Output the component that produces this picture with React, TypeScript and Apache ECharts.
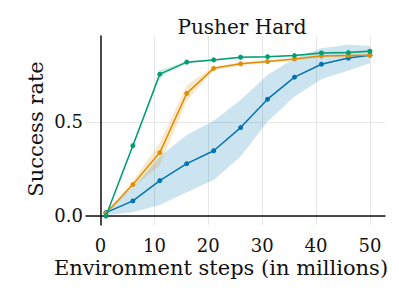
import React, { useEffect, useRef } from "react";
import * as echarts from "echarts";

const steps = [1, 6, 11, 16, 21, 26, 31, 36, 41, 46, 50];
const blueMean = [0.018, 0.08, 0.188, 0.278, 0.347, 0.47, 0.621, 0.738, 0.807, 0.84, 0.855];
const blueLow = [0.005, 0.02, 0.058, 0.126, 0.191, 0.316, 0.502, 0.635, 0.727, 0.773, 0.812];
const blueHigh = [0.03, 0.15, 0.316, 0.431, 0.507, 0.617, 0.75, 0.839, 0.892, 0.91, 0.904];
const orangeMean = [0.014, 0.167, 0.337, 0.652, 0.785, 0.809, 0.821, 0.835, 0.851, 0.853, 0.855];
const orangeLow = [0.008, 0.15, 0.27, 0.61, 0.775, 0.8, 0.813, 0.828, 0.845, 0.847, 0.849];
const orangeHigh = [0.02, 0.185, 0.39, 0.695, 0.795, 0.818, 0.829, 0.842, 0.857, 0.859, 0.861];
const greenMean = [0.0, 0.374, 0.754, 0.818, 0.83, 0.844, 0.847, 0.853, 0.867, 0.869, 0.876];
const greenLow = [-0.005, 0.37, 0.74, 0.812, 0.826, 0.84, 0.843, 0.849, 0.862, 0.864, 0.87];
const greenHigh = [0.005, 0.378, 0.775, 0.824, 0.834, 0.848, 0.851, 0.857, 0.872, 0.874, 0.882];

const xTicks = [0, 10, 20, 30, 40, 50];
const yTicks = [0, 0.5];

const FONT = "DejaVu Serif";

function bandSeries(name: string, low: number[], high: number[], color: string, z: number) {
  return {
    type: "custom",
    name: name + "-band",
    silent: true,
    z,
    data: steps.map((x, i) => [x, low[i], high[i]]),
    encode: { x: 0, y: [1, 2] },
    renderItem: (params: any, api: any) => {
      if (params.dataIndex !== 0) return null;
      const upper = steps.map((x, i) => api.coord([x, high[i]]));
      const lower = steps.map((x, i) => api.coord([x, low[i]])).reverse();
      return {
        type: "polygon",
        shape: { points: upper.concat(lower) },
        style: { fill: color, stroke: "none" },
      };
    },
  };
}

function meanSeries(name: string, mean: number[], color: string, z: number) {
  return {
    type: "line",
    name,
    data: steps.map((x, i) => [x, mean[i]]),
    lineStyle: { color, width: 1.5 },
    itemStyle: { color },
    symbol: "circle",
    symbolSize: 5,
    showSymbol: true,
    z,
  };
}

export default function App() {
  const ref = useRef<HTMLDivElement>(null);
  useEffect(() => {
    if (!ref.current) return;
    const chart = echarts.init(ref.current, null, { renderer: "svg" });
    chart.setOption({
      animation: false,
      backgroundColor: "#ffffff",
      title: {
        text: "Pusher Hard",
        left: 237,
        top: 12,
        textAlign: "center",
        textStyle: { fontFamily: FONT, fontSize: 20, fontWeight: "normal", color: "#111" },
      },
      grid: { left: 86, right: 14, top: 36, bottom: 74 },
      xAxis: {
        type: "value",
        min: -2.7,
        max: 52.8,
        offset: 7,
        axisLine: { show: true, lineStyle: { color: "#111", width: 1.5 } },
        axisTick: { show: false, customValues: xTicks },
        axisLabel: {
          customValues: xTicks,
          margin: 4,
          fontFamily: FONT,
          fontSize: 18,
          color: "#111",
        },
        splitLine: { show: true, lineStyle: { color: "#e6e6e6", width: 1 } },
      },
      yAxis: {
        type: "value",
        min: -0.048,
        max: 0.957,
        axisLine: { show: true, lineStyle: { color: "#111", width: 1.5 } },
        axisTick: { show: false, customValues: yTicks },
        axisLabel: {
          customValues: yTicks,
          margin: 3,
          fontFamily: FONT,
          fontSize: 18,
          color: "#111",
          formatter: (v: number) => v.toFixed(1),
        },
        splitLine: { show: true, lineStyle: { color: "#e6e6e6", width: 1 } },
      },
      graphic: [
        {
          type: "text",
          x: 221,
          y: 268,
          style: {
            text: "Environment steps (in millions)",
            fontFamily: FONT,
            fontSize: 21,
            fill: "#111",
            align: "center",
            verticalAlign: "middle",
          },
        },
        {
          type: "text",
          x: 36,
          y: 129,
          rotation: Math.PI / 2,
          style: {
            text: "Success rate",
            fontFamily: FONT,
            fontSize: 21,
            fill: "#111",
            align: "center",
            verticalAlign: "middle",
          },
        },
      ],
      series: [
        bandSeries("blue", blueLow, blueHigh, "rgba(1,115,178,0.2)", 1),
        bandSeries("orange", orangeLow, orangeHigh, "rgba(222,143,5,0.2)", 1),
        bandSeries("green", greenLow, greenHigh, "rgba(2,158,115,0.2)", 1),
        meanSeries("blue-mean", blueMean, "#0173b2", 3),
        meanSeries("orange-mean", orangeMean, "#de8f05", 4),
        meanSeries("green-mean", greenMean, "#029e73", 5),
      ],
    });
    return () => chart.dispose();
  }, []);
  return <div ref={ref} style={{ width: 399, height: 299, marginLeft: -8, marginTop: -8 }} />;
}
